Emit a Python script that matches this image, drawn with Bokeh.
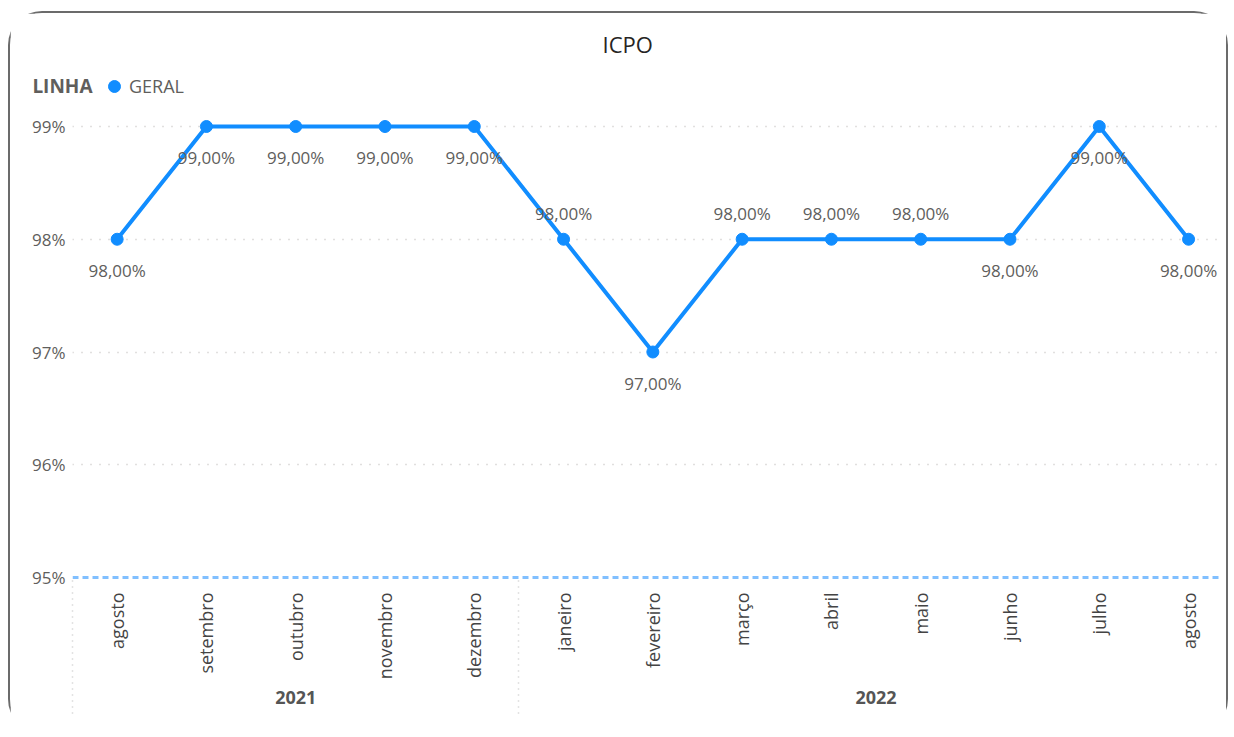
import math
from bokeh.plotting import figure
from bokeh.models import (FixedTicker, LinearAxis, Range1d, Legend, LegendItem,
                          ColumnDataSource, Span)
from bokeh.core.properties import value
from bokeh.embed import file_html
from bokeh.resources import INLINE

# ---------------- data ----------------
chart_title = "ICPO"
legend_title = "LINHA"
series_name = "GERAL"
months = ["agosto", "setembro", "outubro", "novembro", "dezembro", "janeiro",
          "fevereiro", "março", "abril", "maio", "junho", "julho", "agosto"]
years = ["2021", "2021", "2021", "2021", "2021", "2022", "2022", "2022",
         "2022", "2022", "2022", "2022", "2022"]
values = [98, 99, 99, 99, 99, 98, 97, 98, 98, 98, 98, 99, 98]
label_side = ["below", "below", "below", "below", "below", "above", "below",
              "above", "above", "above", "below", "below", "below"]
target = 95
y_ticks = [95, 96, 97, 98, 99]

FONT = "Open Sans"
GRAY = "#605E5C"
BLUE = "#118DFF"

xs = list(range(len(months)))
labels = [f"{v:.2f}".replace(".", ",") + "%" for v in values]
offsets = [-26 if s == "above" else 31 for s in label_side]
src = ColumnDataSource(dict(x=xs, y=values, label=labels, off=offsets))

# year groups
year_names = []
for y in years:
    if y not in year_names:
        year_names.append(y)
year_centers = []
separators = []
for yn in year_names:
    idx = [i for i, y in enumerate(years) if y == yn]
    year_centers.append(sum(idx) / len(idx))
    separators.append(idx[0] - 0.5)

# ---------------- layout ----------------
W, H = 1220, 722
FR_TOP, FR_BOTTOM = 58, 566            # frame edges (canvas px)
PX_PER_UNIT = 112.75                   # vertical scale (px per percentage point)
TOP_TICK_PX = 113                      # canvas row of the highest tick
Y0 = min(y_ticks) - (FR_BOTTOM - (TOP_TICK_PX + (max(y_ticks) - min(y_ticks)) * PX_PER_UNIT)) / PX_PER_UNIT
Y1 = max(y_ticks) + (TOP_TICK_PX - FR_TOP) / PX_PER_UNIT
legend_row_y = round(max(y_ticks) + 40 / PX_PER_UNIT, 3)   # 40px above top tick

p = figure(width=W, height=H, output_backend="svg", toolbar_location=None,
           x_range=Range1d(-0.5, 12.38), y_range=Range1d(Y0, Y1),
           min_border_left=62, min_border_right=8, min_border_top=FR_TOP,
           min_border_bottom=H - FR_BOTTOM)
p.styles = {"margin-left": "8px", "margin-top": "11px",
            "border": "2px solid #6b6b6b", "border-bottom": "none",
            "border-radius": "34px"}
p.outline_line_color = None
p.background_fill_color = "white"
p.border_fill_color = "white"

p.title.text = chart_title
p.title.align = "left"
p.title.offset = 530
p.title.text_font = FONT
p.title.text_font_size = "22px"
p.title.text_font_style = "normal"
p.title.text_color = "#252423"
p.title.standoff = 26

# grid
p.xgrid.visible = False
p.ygrid.ticker = FixedTicker(ticks=y_ticks[1:])
p.ygrid.grid_line_color = "#c2c0be"
p.ygrid.grid_line_dash = "1 8"
p.ygrid.grid_line_width = 1.5

# target line
p.add_layout(Span(location=target, dimension="width", line_color="#80BFFF",
                  line_width=3, line_dash="6 4"))

# series
p.line("x", "y", source=src, line_color=BLUE, line_width=4)
sc = p.scatter("x", "y", source=src, size=12, color=BLUE)
p.text("x", "y", text="label", source=src, y_offset="off", text_align="center",
       text_baseline="middle", text_font=value(FONT),
       text_font_size=value("17px"), text_color=GRAY)

# y axis
yax = p.yaxis[0]
yax.ticker = FixedTicker(ticks=y_ticks)
yax.major_label_overrides = {t: f"{t}%" for t in y_ticks}
yax.axis_line_color = None
yax.major_tick_line_color = None
yax.minor_tick_line_color = None
yax.major_tick_out = 0
yax.major_tick_in = 0
yax.major_label_standoff = 7
yax.major_label_text_font = FONT
yax.major_label_text_font_size = "17px"
yax.major_label_text_color = GRAY

# legend title ("LINHA") as the only label of a second left axis
lax = LinearAxis(ticker=FixedTicker(ticks=[legend_row_y]),
                 major_label_overrides={legend_row_y: legend_title})
lax.axis_line_color = None
lax.major_tick_line_color = None
lax.minor_tick_line_color = None
lax.major_tick_out = 0
lax.major_tick_in = 0
lax.major_label_standoff = -63
lax.major_label_text_font = FONT
lax.major_label_text_font_size = "19px"
lax.major_label_text_font_style = "bold"
lax.major_label_text_color = GRAY
p.add_layout(lax, "left")

# month axis
xax = p.xaxis[0]
xax.ticker = FixedTicker(ticks=xs)
xax.major_label_overrides = {i: m for i, m in enumerate(months)}
xax.major_label_orientation = math.pi / 2
xax.axis_line_color = None
xax.major_tick_line_color = None
xax.minor_tick_line_color = None
xax.major_tick_out = 0
xax.major_tick_in = 0
xax.major_label_standoff = 13
xax.major_label_text_font = FONT
xax.major_label_text_font_size = "18px"
xax.major_label_text_color = "#444444"

# year axis
yr = LinearAxis(ticker=FixedTicker(ticks=year_centers, minor_ticks=separators),
                major_label_overrides={c: n for c, n in zip(year_centers, year_names)})
yr.axis_line_color = None
yr.major_tick_line_color = None
yr.major_tick_out = 0
yr.major_tick_in = 0
yr.minor_tick_line_color = "#c8c8c8"
yr.minor_tick_line_dash = "1 5"
yr.minor_tick_line_width = 1.5
yr.minor_tick_in = 105
yr.minor_tick_out = 31
yr.major_label_standoff = -23
yr.major_label_text_font = FONT
yr.major_label_text_font_size = "18px"
yr.major_label_text_font_style = "bold"
yr.major_label_text_color = "#555555"
p.add_layout(yr, "below")

# legend item inside the (extended) frame
legend = Legend(items=[LegendItem(label=series_name, renderers=[sc])],
                orientation="horizontal", location=(27, FR_BOTTOM - 88),
                border_line_color=None, background_fill_alpha=0,
                padding=0, margin=0, spacing=0,
                glyph_width=30, glyph_height=30, label_standoff=0,
                label_text_font=FONT, label_text_font_size="18px",
                label_text_color=GRAY)
p.add_layout(legend, "center")

open("out.html", "w").write(file_html(p, INLINE))
